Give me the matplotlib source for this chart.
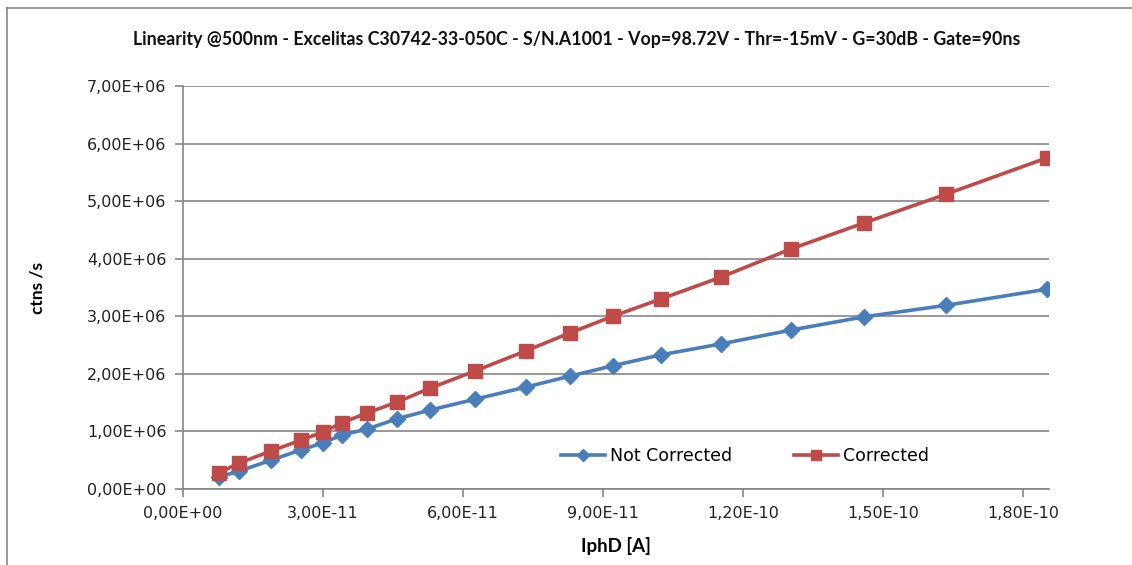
import numpy as np
import matplotlib.pyplot as plt
from matplotlib.lines import Line2D
from matplotlib.ticker import FuncFormatter

# photodiode current [A]
iphd = np.array([0.77, 1.20, 1.89, 2.53, 3.00, 3.41, 3.94, 4.59, 5.29, 6.26,
                 7.35, 8.29, 9.21, 10.24, 11.53, 13.03, 14.59, 16.35, 18.51]) * 1e-11

# counts per second
not_corrected = np.array([0.21, 0.31, 0.50, 0.68, 0.80, 0.94, 1.04, 1.22, 1.37, 1.56,
                          1.77, 1.96, 2.14, 2.33, 2.52, 2.76, 2.99, 3.19, 3.47]) * 1e6
corrected = np.array([0.28, 0.45, 0.66, 0.85, 0.99, 1.15, 1.32, 1.51, 1.75, 2.05,
                      2.40, 2.71, 3.00, 3.30, 3.68, 4.17, 4.62, 5.12, 5.75]) * 1e6

x_ticks = np.arange(0, 1.81e-10, 3e-11)
y_ticks = np.arange(0, 7.01e6, 1e6)

title = ("Linearity @500nm - Excelitas C30742-33-050C - S/N.A1001 - Vop=98.72V"
         " - Thr=-15mV - G=30dB - Gate=90ns")

blue = '#4A7EBB'
red = '#BE4B48'
grey = '#868686'


def excel_sci(v, pos):
    if v == 0:
        return '0,00E+00'
    s = f"{v:.2E}"
    return s.replace('.', ',')


fig = plt.figure(figsize=(11.32, 5.65), dpi=100)
ax = fig.add_axes([183 / 1132, 1 - 489 / 565, (1049 - 183) / 1132, (489 - 86) / 565])

ax.plot(iphd, not_corrected, color=blue, lw=2.6, marker='D', ms=8,
        label='Not Corrected', zorder=3)
ax.plot(iphd, corrected, color=red, lw=2.6, marker='s', ms=9.5,
        label='Corrected', zorder=3)

ax.set_xlim(0, 1.856e-10)
ax.set_ylim(0, 7e6)
ax.set_xticks(x_ticks)
ax.set_yticks(y_ticks)
ax.xaxis.set_major_formatter(FuncFormatter(excel_sci))
ax.yaxis.set_major_formatter(FuncFormatter(excel_sci))

ax.grid(axis='y', color=grey, lw=1.2)
ax.set_axisbelow(True)
for side in ['top', 'right']:
    ax.spines[side].set_visible(False)
for side in ['left', 'bottom']:
    ax.spines[side].set_color(grey)
    ax.spines[side].set_linewidth(1.2)
ax.tick_params(direction='out', length=6, width=1.2, color=grey,
               labelsize=11.5, labelcolor='#222222', pad=6)

fig.text(577 / 1132, 1 - 40 / 565, title, ha='center', va='center',
         fontsize=12.8, fontweight='bold', family='Lato', color='#111111')
ax.set_ylabel('ctns /s', fontsize=12.5, fontweight='bold', family='Lato', labelpad=30)
ax.set_xlabel('IphD [A]', fontsize=13.5, fontweight='bold', family='Lato', labelpad=12)

ax.legend(loc='lower center', bbox_to_anchor=(0.649, 0.02), ncol=2, frameon=False,
          fontsize=12.5, handlelength=2.5, columnspacing=3.6, handletextpad=0.3,
          markerscale=0.8)

# outer chart frame (top and left edges)
fig.add_artist(Line2D([7 / 1132, 7 / 1132], [0, 1 - 8 / 565], color=grey, lw=1.2,
                      transform=fig.transFigure))
fig.add_artist(Line2D([7 / 1132, 1], [1 - 8 / 565, 1 - 8 / 565], color=grey, lw=1.2,
                      transform=fig.transFigure))

fig.savefig('out.png', dpi=100)
